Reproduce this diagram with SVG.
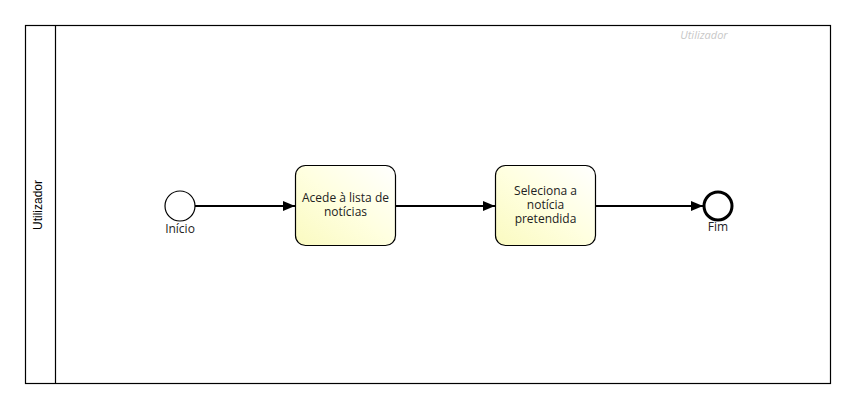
<svg xmlns="http://www.w3.org/2000/svg" width="856" height="409" viewBox="0 0 856 409">
<defs>
<linearGradient id="taskGrad" x1="1" y1="0" x2="0" y2="1">
<stop offset="0" stop-color="#FFFFFF"/>
<stop offset="0.5" stop-color="#FFFFE0"/>
<stop offset="1" stop-color="#FAFAC0"/>
</linearGradient>
<marker id="arrow" viewBox="0 0 12 10" refX="12" refY="5" markerWidth="12" markerHeight="10" markerUnits="userSpaceOnUse" orient="auto">
<path d="M0,0 L12,5 L0,10 Z" fill="#000"/>
</marker>
<style>
.lbl{font-family:"Open Sans","Noto Sans",sans-serif;font-size:12px;fill:#222;text-anchor:middle}
.task{fill:url(#taskGrad);stroke:#000;stroke-width:1.2}
.flow{stroke:#000;stroke-width:2;fill:none;marker-end:url(#arrow)}
</style>
</defs>
<rect width="856" height="409" fill="#fff"/>
<g id="pool">
<rect x="25.5" y="25.5" width="805" height="358" fill="#fff" stroke="#000" stroke-width="1.2"/>
<line x1="55.5" y1="25.5" x2="55.5" y2="383.5" stroke="#000" stroke-width="1.2"/>
<text transform="translate(42,205) rotate(-90)" font-family="Liberation Sans,Arial,sans-serif" font-size="12" text-anchor="middle" fill="#000">Utilizador</text>
<text x="704" y="39" font-family="Open Sans,Noto Sans,sans-serif" font-size="11" font-style="italic" fill="#c8c8c8" text-anchor="middle">Utilizador</text>
</g>
<g id="connectors">
<line class="flow" x1="195" y1="206" x2="295" y2="206"/>
<line class="flow" x1="395" y1="206" x2="495" y2="206"/>
<line class="flow" x1="595" y1="206" x2="703" y2="206"/>
</g>
<g id="start">
<circle cx="180" cy="206" r="15" fill="#fff" stroke="#000" stroke-width="1.2"/>
<text class="lbl" x="180" y="233">Início</text>
</g>
<g id="task1">
<rect class="task" x="295.5" y="165.5" width="100" height="80" rx="10"/>
<text class="lbl" x="345.5" y="202">Acede à lista de</text>
<text class="lbl" x="345.5" y="216">notícias</text>
</g>
<g id="task2">
<rect class="task" x="495.5" y="165.5" width="100" height="80" rx="10"/>
<text class="lbl" x="545.5" y="195">Seleciona a</text>
<text class="lbl" x="545.5" y="209">notícia</text>
<text class="lbl" x="545.5" y="223">pretendida</text>
</g>
<g id="end">
<circle cx="718" cy="206" r="14" fill="#fff" stroke="#000" stroke-width="3"/>
<text class="lbl" x="718" y="231">Fim</text>
</g>
</svg>
